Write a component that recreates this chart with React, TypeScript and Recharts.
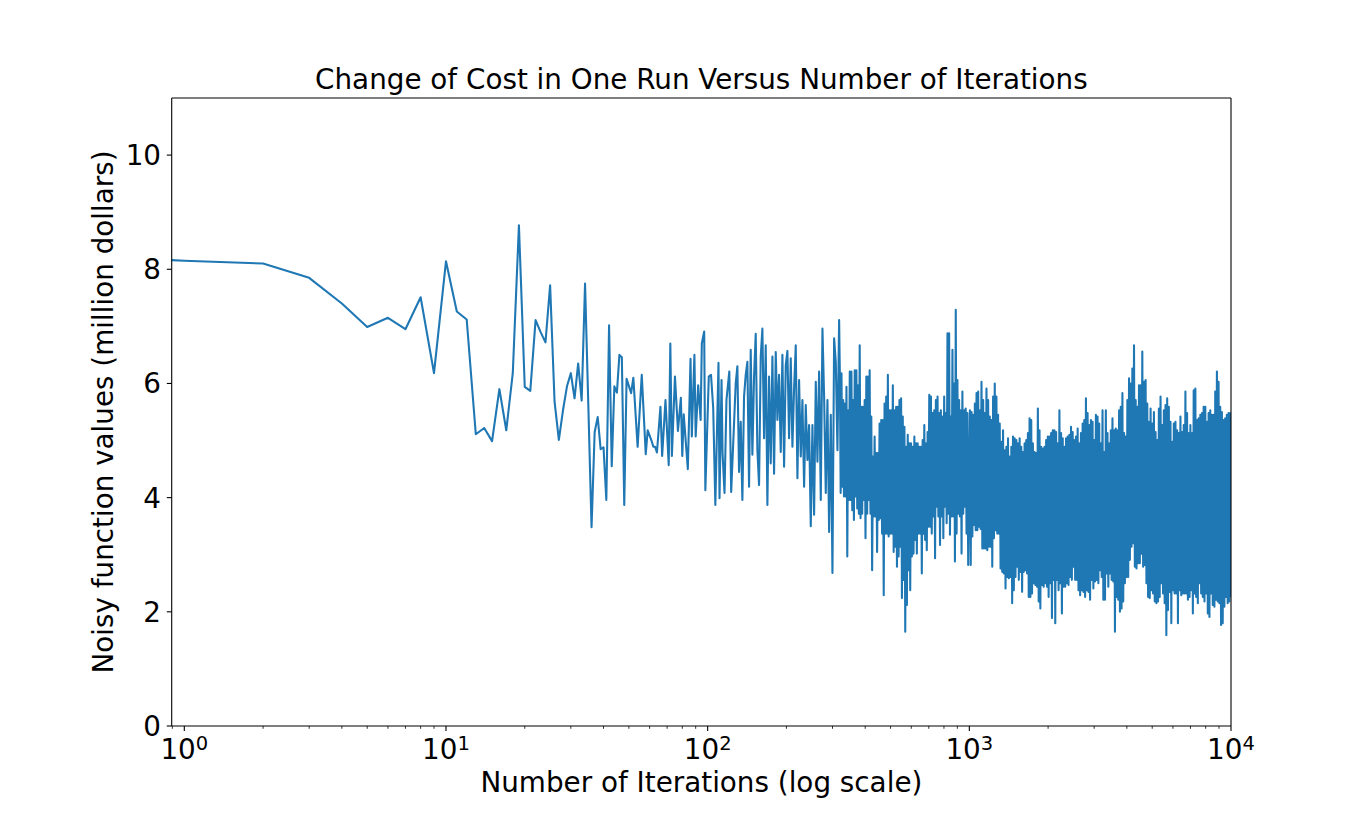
import { LineChart, Line, XAxis, YAxis, ReferenceLine } from 'recharts';

const FONT = '"DejaVu Sans", sans-serif';
const BLUE = '#1f77b4';

// plot frame in page pixels (chart is pinned to the page corner)
const PLOT_LEFT = 171.7;
const PLOT_BOTTOM = 726;

const X_DOMAIN = [0.895, 10000];
const Y_DOMAIN = [0, 11];
const Y_TICKS = [0, 2, 4, 6, 8, 10];
const X_TICKS = [
  0.9, 1, 2, 3, 4, 5, 6, 7, 8, 9,
  10, 20, 30, 40, 50, 60, 70, 80, 90,
  100, 200, 300, 400, 500, 600, 700, 800, 900,
  1000, 2000, 3000, 4000, 5000, 6000, 7000, 8000, 9000, 10000,
];

// first iterations, read point by point
const earlyIters = [
  0.895, 1, 2, 3, 4, 5, 6, 7, 8, 9, 10,
  11, 12, 13, 14, 15, 16, 17, 18, 19, 20,
  21, 22, 23, 24, 25, 26, 27, 28, 29, 30,
  31, 32, 33, 34, 35, 36, 37, 38, 39, 40,
  41, 42, 43, 44, 45, 46, 47, 48, 49, 51,
  52, 54, 56, 58, 59, 61, 62, 63, 64, 66,
  67, 69, 71, 72, 73, 75, 77, 79, 80, 81,
  84, 86, 87, 88, 89, 90, 92, 94, 95, 97,
  98, 101, 103, 105, 107, 110, 111, 113, 114, 116,
  118, 121, 123,
];
const earlyCosts = [
  8.16, 8.15, 8.10, 7.85, 7.40, 6.99, 7.15, 6.95, 7.51, 6.18, 8.14,
  7.26, 7.12, 5.11, 5.22, 4.99, 5.90, 5.18, 6.18, 8.77, 5.94,
  5.87, 7.11, 6.90, 6.72, 7.72, 5.68, 5.01, 5.53, 5.95, 6.18,
  5.74, 6.35, 5.70, 7.75, 5.60, 3.48, 5.15, 5.41, 4.85, 4.88,
  3.96, 7.02, 4.55, 5.95, 5.84, 6.50, 6.46, 3.87, 6.08, 5.83,
  6.10, 4.89, 6.15, 4.76, 5.18, 5.00, 4.89, 4.89, 4.79, 5.59,
  4.73, 5.71, 4.57, 6.70, 4.73, 6.12, 5.17, 5.75, 4.73, 5.46,
  4.50, 6.43, 5.07, 5.80, 6.50, 5.07, 5.97, 5.36, 6.70, 6.91,
  4.13, 6.12, 6.15, 5.57, 3.87, 6.36, 3.99, 6.06, 4.78, 4.08,
  5.71, 6.21, 4.10,
];

// iterations 128..318, successive turning points
const band1Range = [128, 318];
const band1Costs = [
  6.00, 6.30, 4.45, 5.33, 3.96, 5.77, 6.15, 6.38, 4.19, 6.59,
  4.75, 6.12, 6.87, 4.83, 4.22, 6.47, 6.96, 5.04, 6.67, 3.87,
  6.12, 4.60, 6.47, 4.42, 6.55, 5.36, 6.15, 4.80, 6.50, 4.54,
  6.32, 6.57, 5.04, 6.44, 4.89, 5.91, 6.67, 4.34, 6.06, 4.72,
  5.71, 4.19, 5.62, 4.66, 5.27, 3.50, 5.27, 3.70, 6.03, 4.63,
  6.21, 3.96, 6.96, 5.77, 4.08, 5.71, 3.40, 5.45, 2.68, 6.79,
  6.38, 4.83, 7.11,
];

// iterations 320..990: the line swings between these tops and bottoms
const band2Range = [320, 990];
const band2Highs = [
  6.18, 6.18, 5.71, 5.65, 5.94, 5.53, 6.21, 6.21, 5.71, 6.23,
  6.23, 5.97, 6.67, 5.59, 5.59, 5.71, 6.12, 6.12, 6.23, 5.42,
  4.72, 5.07, 4.78, 4.78, 5.30, 5.36, 5.36, 5.65, 5.77, 6.15,
  5.53, 5.53, 5.97, 5.53, 5.59, 5.59, 5.71, 5.74, 5.42, 5.24,
  4.89, 5.10, 4.95, 4.95, 4.89, 5.07, 4.95, 4.95, 4.89, 4.89,
  5.01, 5.27, 4.95, 5.15, 5.80, 5.77, 5.48, 5.53, 5.71, 5.77,
  5.48, 5.53, 5.42, 5.77, 5.48, 6.88, 6.88, 5.42, 6.59, 6.00,
  7.29, 6.06, 5.71, 5.53, 5.86, 5.53, 5.56, 5.48,
];
const band2Lows = [
  4.08, 4.19, 4.02, 4.02, 2.97, 3.96, 3.96, 3.78, 3.61, 4.02,
  3.81, 3.72, 3.64, 3.72, 3.96, 3.29, 3.72, 3.96, 3.72, 2.73,
  3.67, 3.67, 3.05, 3.61, 3.64, 3.37, 2.29, 3.37, 3.37, 3.32,
  3.37, 3.37, 3.05, 3.14, 2.79, 2.97, 3.14, 2.24, 2.56, 1.65,
  2.12, 2.73, 2.38, 2.97, 3.02, 3.26, 3.02, 3.37, 3.37, 2.67,
  3.37, 3.26, 3.08, 3.49, 3.49, 3.37, 3.67, 2.94, 3.84, 3.67,
  3.17, 3.67, 3.29, 3.84, 3.55, 3.72, 3.35, 3.67, 3.67, 2.88,
  3.37, 3.72, 3.67, 3.02, 3.72, 3.84, 3.37, 2.82,
];

// iterations 1005..10000, same kind of swing
const tailRange = [1005, 10000];
const tailHighs = [
  5.53, 5.50, 5.45, 5.65, 5.83, 5.86, 5.53, 6.03, 5.71, 5.48,
  5.91, 5.71, 5.42, 5.36, 5.77, 6.00, 5.77, 5.45, 5.30, 4.98,
  5.18, 4.83, 4.89, 5.04, 4.72, 4.89, 5.07, 5.04, 5.01, 4.95,
  5.04, 4.89, 4.80, 4.95, 5.01, 5.13, 5.39, 5.36, 4.95, 4.80,
  4.78, 5.56, 5.18, 4.89, 4.86, 4.89, 5.01, 5.07, 5.07, 5.13,
  5.18, 5.18, 5.15, 4.95, 5.53, 5.13, 5.04, 4.89, 5.04, 5.07,
  5.10, 5.24, 5.15, 5.01, 5.07, 5.21, 4.95, 5.13, 5.30, 5.36,
  5.74, 5.48, 5.27, 5.36, 5.33, 5.01, 5.45, 5.42, 5.30, 4.95,
  5.53,
  4.80, 5.53, 5.13, 4.95, 5.18, 5.39, 5.18, 5.21, 5.18, 5.53,
  5.59, 5.83, 5.13, 5.07, 5.71, 6.09, 6.00, 6.26, 6.67, 5.71,
  5.59, 5.97, 5.97, 6.56, 6.03, 6.06, 5.65, 5.33, 5.56, 5.30,
  5.50, 5.15, 5.01, 5.56, 5.77, 5.27, 5.53, 5.62, 5.74, 5.59,
  5.33, 4.98, 5.30, 5.33, 5.18, 5.13, 5.42, 5.15, 5.27, 5.86,
  5.48, 5.13, 5.27, 5.13, 5.88, 5.91, 5.36, 5.39, 5.45, 5.48,
  5.59, 5.59, 5.33, 5.48, 5.53, 5.45, 5.45, 5.86, 6.21, 6.03,
  5.59, 5.50, 5.36, 5.39, 5.45, 5.48, 5.48,
];
const tailLows = [
  2.82, 3.32, 3.52, 3.43, 3.43, 3.49, 3.45, 3.11, 3.11, 3.11,
  3.08, 3.14, 3.14, 2.79, 3.29, 3.43, 3.37, 3.37, 2.76, 2.70,
  2.67, 2.41, 2.61, 2.59, 2.61, 2.15, 2.38, 2.61, 2.79, 2.56,
  2.70, 2.35, 2.70, 2.73, 2.67, 2.26, 2.26, 2.32, 2.50, 2.47,
  2.44, 2.18, 2.06, 2.47, 2.44, 2.50, 2.44, 2.26, 2.50, 1.89,
  2.56, 1.80, 2.56, 2.38, 2.50, 1.97, 2.44, 2.44, 2.50, 2.47,
  2.61, 2.56, 2.79, 2.56, 2.56, 2.38, 2.29, 2.38, 2.35, 2.26,
  2.38, 2.35, 2.21, 2.56, 2.41, 2.53, 2.56, 2.50, 2.73, 2.61,
  2.21,
  2.21, 2.67, 2.44, 2.67, 2.56, 2.53, 1.65, 2.26, 2.21, 2.00,
  2.06, 2.18, 2.50, 2.61, 2.61, 2.91, 3.14, 3.20, 2.79, 2.76,
  2.85, 2.85, 3.02, 2.79, 2.82, 2.50, 2.26, 2.24, 2.38, 2.32,
  2.18, 2.15, 2.18, 2.26, 2.50, 2.32, 2.15, 1.59, 2.03, 2.35,
  1.80, 2.38, 2.32, 2.32, 1.80, 2.38, 2.29, 2.32, 2.32, 2.32,
  2.21, 2.26, 2.38, 1.97, 2.32, 2.26, 2.15, 2.50, 2.32, 2.26,
  2.18, 2.32, 1.97, 1.91, 2.32, 2.12, 2.09, 2.21, 2.18, 2.15,
  1.77, 1.80, 2.09, 2.26, 2.15, 2.18, 2.26,
];

// the readings in a band sit evenly along the log axis
const logStep = (range: number[], n: number, k: number) =>
  range[0] * Math.pow(range[1] / range[0], k / (n - 1));

const swing = (range: number[], highs: number[], lows: number[]) =>
  highs.flatMap((hi, i) => [
    { iter: logStep(range, highs.length * 2, 2 * i), cost: hi },
    { iter: logStep(range, highs.length * 2, 2 * i + 1), cost: lows[i] },
  ]);

const costData = [
  ...earlyIters.map((iter, i) => ({ iter, cost: earlyCosts[i] })),
  ...band1Costs.map((cost, i) => ({ iter: logStep(band1Range, band1Costs.length, i), cost })),
  ...swing(band2Range, band2Highs, band2Lows),
  ...swing(tailRange, tailHighs, tailLows),
];

const XTick = ({ x, payload }: any) => {
  const exp = Math.log10(payload.value);
  const major = Math.abs(exp - Math.round(exp)) < 1e-9;
  return (
    <g>
      <line
        x1={x}
        x2={x}
        y1={PLOT_BOTTOM}
        y2={PLOT_BOTTOM + (major ? 4.9 : 2.8)}
        stroke="#000"
        strokeWidth={major ? 1.1 : 0.8}
      />
      {major && (
        <text x={x} y={759} textAnchor="middle" fontFamily={FONT} fontSize={27.8} fill="#000">
          10<tspan dy={-9} fontSize={19.5}>{Math.round(exp)}</tspan>
        </text>
      )}
    </g>
  );
};

const YTick = ({ y, payload }: any) => (
  <g>
    <line x1={PLOT_LEFT - 4.9} x2={PLOT_LEFT} y1={y} y2={y} stroke="#000" strokeWidth={1.1} />
    <text x={161} y={y + 10} textAnchor="end" fontFamily={FONT} fontSize={27.8} fill="#000">
      {payload.value}
    </text>
  </g>
);

export default function App() {
  return (
    <div style={{ position: 'absolute', left: 0, top: 0, width: 1368, height: 816, background: '#fff' }}>
      <LineChart
        width={1368}
        height={816}
        data={costData}
        margin={{ top: 98, right: 137, bottom: 40, left: 111.7 }}
      >
        <XAxis
          dataKey="iter"
          type="number"
          scale="log"
          domain={X_DOMAIN}
          allowDataOverflow
          ticks={X_TICKS}
          interval={0}
          height={50}
          tickLine={false}
          axisLine={{ stroke: '#000', strokeWidth: 1.1 }}
          tick={<XTick />}
        />
        <YAxis
          type="number"
          domain={Y_DOMAIN}
          allowDataOverflow
          ticks={Y_TICKS}
          interval={0}
          width={60}
          tickLine={false}
          axisLine={{ stroke: '#000', strokeWidth: 1.1 }}
          tick={<YTick />}
        />
        <Line
          dataKey="cost"
          stroke={BLUE}
          strokeWidth={2.08}
          strokeLinejoin="round"
          dot={false}
          activeDot={false}
          isAnimationActive={false}
        />
        <ReferenceLine y={11} stroke="#000" strokeWidth={1.1} />
        <ReferenceLine x={10000} stroke="#000" strokeWidth={1.1} />
      </LineChart>
      <svg
        width={1368}
        height={816}
        style={{ position: 'absolute', left: 0, top: 0, pointerEvents: 'none' }}
      >
        <text x={701.4} y={89} textAnchor="middle" fontFamily={FONT} fontSize={27.8} fill="#000">
          Change of Cost in One Run Versus Number of Iterations
        </text>
        <text x={701.4} y={792} textAnchor="middle" fontFamily={FONT} fontSize={27.8} fill="#000">
          Number of Iterations (log scale)
        </text>
        <text
          transform="translate(113,412) rotate(-90)"
          textAnchor="middle"
          fontFamily={FONT}
          fontSize={27.8}
          fill="#000"
        >
          Noisy function values (million dollars)
        </text>
      </svg>
    </div>
  );
}
